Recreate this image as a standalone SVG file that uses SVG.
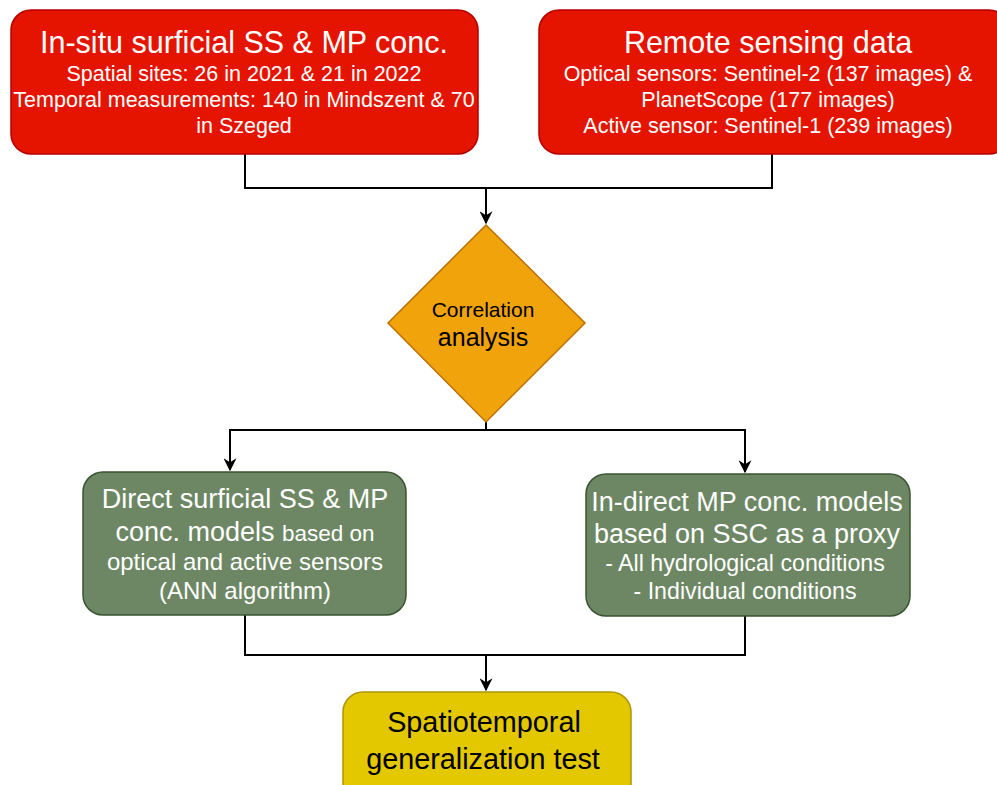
<svg xmlns="http://www.w3.org/2000/svg" width="997" height="785" viewBox="0 0 997 785">
<defs>
<marker id="arr" viewBox="0 0 10 10" refX="9" refY="5" markerWidth="13" markerHeight="13" markerUnits="userSpaceOnUse" orient="auto">
<path d="M0,0 L10,5 L0,10 L3,5 Z" fill="#000"/>
</marker>
</defs>
<style>
.red{fill:#e51400;stroke:#b20000;stroke-width:1.5}
.green{fill:#6d8764;stroke:#3a5431;stroke-width:1.5}
.yellow{fill:#e3c800;stroke:#b09500;stroke-width:1.5}
.orange{fill:#f0a30a;stroke:#bd7000;stroke-width:1.5}
text{font-family:"Liberation Sans",Arial,sans-serif;text-anchor:middle}
.w{fill:#fff}
.k{fill:#000}
.c{fill:none;stroke:#000;stroke-width:2}
</style>
<g id="connectors">
<polyline class="c" points="245,154 245,188 772,188 772,154"/>
<line class="c" x1="486" y1="188" x2="486" y2="223" marker-end="url(#arr)"/>
<polyline class="c" points="486,422 486,430 230,430 230,470" marker-end="url(#arr)"/>
<polyline class="c" points="486,430 745,430 745,472" marker-end="url(#arr)"/>
<polyline class="c" points="245,615 245,655 745,655 745,616"/>
<line class="c" x1="486" y1="655" x2="486" y2="690" marker-end="url(#arr)"/>
</g>
<g id="insitu">
<rect class="red" x="11" y="10" width="467" height="144" rx="20"/>
<text class="w" x="244" y="53" font-size="30.5">In-situ surficial SS &amp; MP conc.</text>
<text class="w" x="244" y="81" font-size="21.5">Spatial sites: 26 in 2021 &amp; 21 in 2022</text>
<text class="w" x="244" y="107" font-size="21.5">Temporal measurements: 140 in Mindszent &amp; 70</text>
<text class="w" x="244" y="133" font-size="21.5">in Szeged</text>
</g>
<g id="remote">
<rect class="red" x="539" y="10" width="470" height="144" rx="20"/>
<text class="w" x="768" y="53" font-size="30.5">Remote sensing data</text>
<text class="w" x="768" y="81" font-size="21.5">Optical sensors: Sentinel-2 (137 images) &amp;</text>
<text class="w" x="768" y="107" font-size="21.5">PlanetScope (177 images)</text>
<text class="w" x="768" y="133" font-size="21.5">Active sensor: Sentinel-1 (239 images)</text>
</g>
<g id="correlation">
<polygon class="orange" points="486,225 585,323 486,422 388,323"/>
<text class="k" x="483" y="317" font-size="21">Correlation</text>
<text class="k" x="483" y="346" font-size="25">analysis</text>
</g>
<g id="direct">
<rect class="green" x="83" y="472" width="323" height="143" rx="20"/>
<text class="w" x="245" y="508" font-size="27">Direct surficial SS &amp; MP</text>
<text class="w" x="245" y="541" font-size="27">conc. models <tspan font-size="22.5">based on</tspan></text>
<text class="w" x="245" y="570" font-size="24">optical and active sensors</text>
<text class="w" x="245" y="599" font-size="24">(ANN algorithm)</text>
</g>
<g id="indirect">
<rect class="green" x="586" y="474" width="324" height="142" rx="20"/>
<text class="w" x="747" y="511" font-size="27">In-direct MP conc. models</text>
<text class="w" x="747" y="543" font-size="27">based on SSC as a proxy</text>
<text class="w" x="745" y="571" font-size="23.2">- All hydrological conditions</text>
<text class="w" x="745" y="599" font-size="23.2">- Individual conditions</text>
</g>
<g id="test">
<rect class="yellow" x="343" y="692" width="288" height="120" rx="20"/>
<text class="k" x="484" y="732" font-size="28.8">Spatiotemporal</text>
<text class="k" x="483" y="769" font-size="28.8">generalization test</text>
</g>
</svg>
